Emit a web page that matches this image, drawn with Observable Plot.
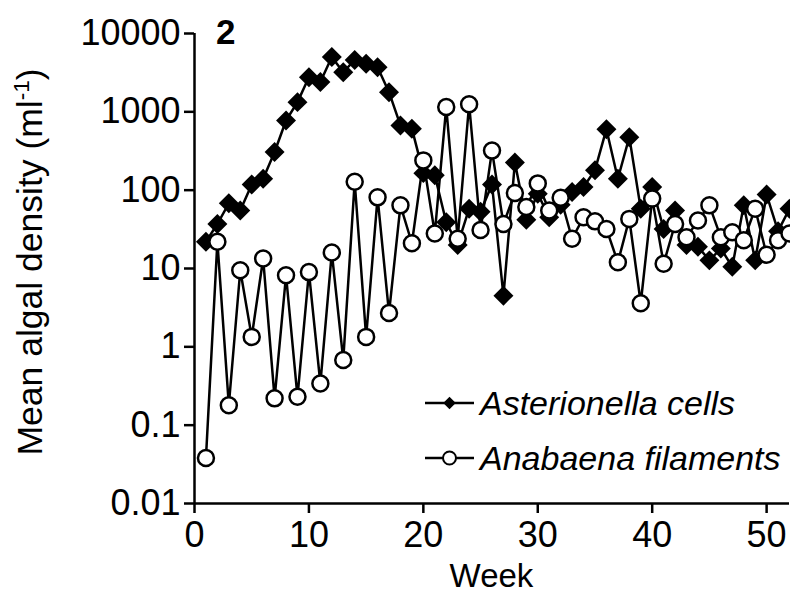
<!DOCTYPE html>
<html><head><meta charset="utf-8">
<script src="https://cdn.jsdelivr.net/npm/d3@7"></script>
<script src="https://cdn.jsdelivr.net/npm/@observablehq/plot@0.6"></script>
<style>
html,body{margin:0;padding:0;background:#fff;}
#wrap{position:relative;width:790px;height:597px;}
</style></head><body><div id="wrap"></div>
<script>
const weeks = d3.range(1, 53);
const asterionella = [22, 37, 68, 55, 118, 140, 307, 775, 1330, 2760,
  2400, 5000, 3200, 4600, 4100, 3700, 1780, 670, 610, 165,
  155, 39, 20, 58, 53, 118, 4.5, 225, 42, 90,
  45, 65, 95, 110, 180, 600, 140, 475, 58, 110,
  32, 55, 20, 19, 12.7, 18, 10.5, 64, 12.7, 88,
  30, 58];
const anabaena = [0.038, 22, 0.18, 9.5, 1.34, 13.4, 0.22, 8.2, 0.23, 9.0,
  0.34, 16, 0.68, 128, 1.34, 81, 2.7, 64, 21, 240,
  28, 1150, 24, 1250, 31, 320, 37, 92, 61, 122,
  55, 80, 24, 45, 40, 32, 12, 43, 3.6, 78,
  11.5, 37, 25, 41, 64, 25, 29, 23, 58, 15,
  23, 28];
const xTicks = [0, 10, 20, 30, 40, 50];
const yTicks = [0.01, 0.1, 1, 10, 100, 1000, 10000];
const seriesNames = ["Asterionella cells", "Anabaena filaments"];
const panelLabel = "2";
const xLabel = "Week";
const yLabelMain = "Mean algal density (ml";
const yLabelSup = "-1";

const FONT = '"Liberation Sans", Arial, Helvetica, sans-serif';
const ast = weeks.map((w, i) => ({week: w, value: asterionella[i]}));
const ana = weeks.map((w, i) => ({week: w, value: anabaena[i]}));

const chart = Plot.plot({
  width: 790, height: 597,
  marginLeft: 194, marginRight: 1, marginTop: 33, marginBottom: 94,
  style: {fontFamily: FONT, fontSize: "36px", color: "#000", background: "#fff"},
  x: {domain: [0, 52]},
  y: {type: "log", domain: [0.01, 10000]},
  marks: [
    Plot.axisX({ticks: xTicks, tickSize: 10, tickPadding: 8, tickFormat: d => String(d), label: null, strokeWidth: 2.5, fontSize: 36}),
    Plot.axisY({ticks: yTicks, tickSize: 10, tickPadding: 4, tickFormat: d => String(d), label: null, strokeWidth: 2.5, fontSize: 36}),
    Plot.ruleY([0.01], {stroke: "#000", strokeWidth: 2.5}),
    Plot.ruleX([0], {stroke: "#000", strokeWidth: 2.5}),
    Plot.line(ast, {x: "week", y: "value", stroke: "#000", strokeWidth: 2.5}),
    Plot.dot(ast, {x: "week", y: "value", symbol: "diamond2", r: 9, fill: "#000", stroke: "none"}),
    Plot.line(ana, {x: "week", y: "value", stroke: "#000", strokeWidth: 2.5}),
    Plot.dot(ana, {x: "week", y: "value", symbol: "circle", r: 8, fill: "#fff", stroke: "#000", strokeWidth: 2.5})
  ]
});
document.getElementById("wrap").appendChild(chart);

const svg = d3.select(chart);
// y label
const yl = svg.append("text")
  .attr("transform", "translate(42,262) rotate(-90)")
  .attr("text-anchor", "middle")
  .attr("font-family", FONT).attr("font-size", 35.5).attr("fill", "#000");
yl.append("tspan").text(yLabelMain);
yl.append("tspan").attr("font-size", 22.5).attr("dy", -13).text(yLabelSup);
yl.append("tspan").attr("font-size", 35.5).attr("dy", 13).text(")");
// x label
svg.append("text").attr("x", 491.5).attr("y", 587).attr("text-anchor", "middle")
  .attr("font-family", FONT).attr("font-size", 33).attr("fill", "#000").text(xLabel);
// panel label
svg.append("text").attr("x", 216).attr("y", 44).attr("text-anchor", "start")
  .attr("font-family", FONT).attr("font-size", 35).attr("font-weight", "bold").attr("fill", "#000").text(panelLabel);
// legend
const leg = [{name: seriesNames[0], y: 403, sym: "diamond"}, {name: seriesNames[1], y: 458, sym: "circle"}];
leg.forEach(l => {
  const g = svg.append("g");
  g.append("line").attr("x1", 425).attr("x2", 474).attr("y1", l.y).attr("y2", l.y).attr("stroke", "#000").attr("stroke-width", 2.5);
  if (l.sym === "diamond") {
    g.append("path").attr("d", d3.symbol(d3.symbolDiamond2, 100)()).attr("transform", `translate(449.5,${l.y})`).attr("fill", "#000");
  } else {
    g.append("circle").attr("cx", 449.5).attr("cy", l.y).attr("r", 6.5).attr("fill", "#fff").attr("stroke", "#000").attr("stroke-width", 2);
  }
  g.append("text").attr("x", 480).attr("y", l.y + 12).attr("text-anchor", "start").attr("font-family", FONT).attr("font-size", 34)
    .attr("font-style", "italic").attr("fill", "#000").text(l.name);
});
</script></body></html>
